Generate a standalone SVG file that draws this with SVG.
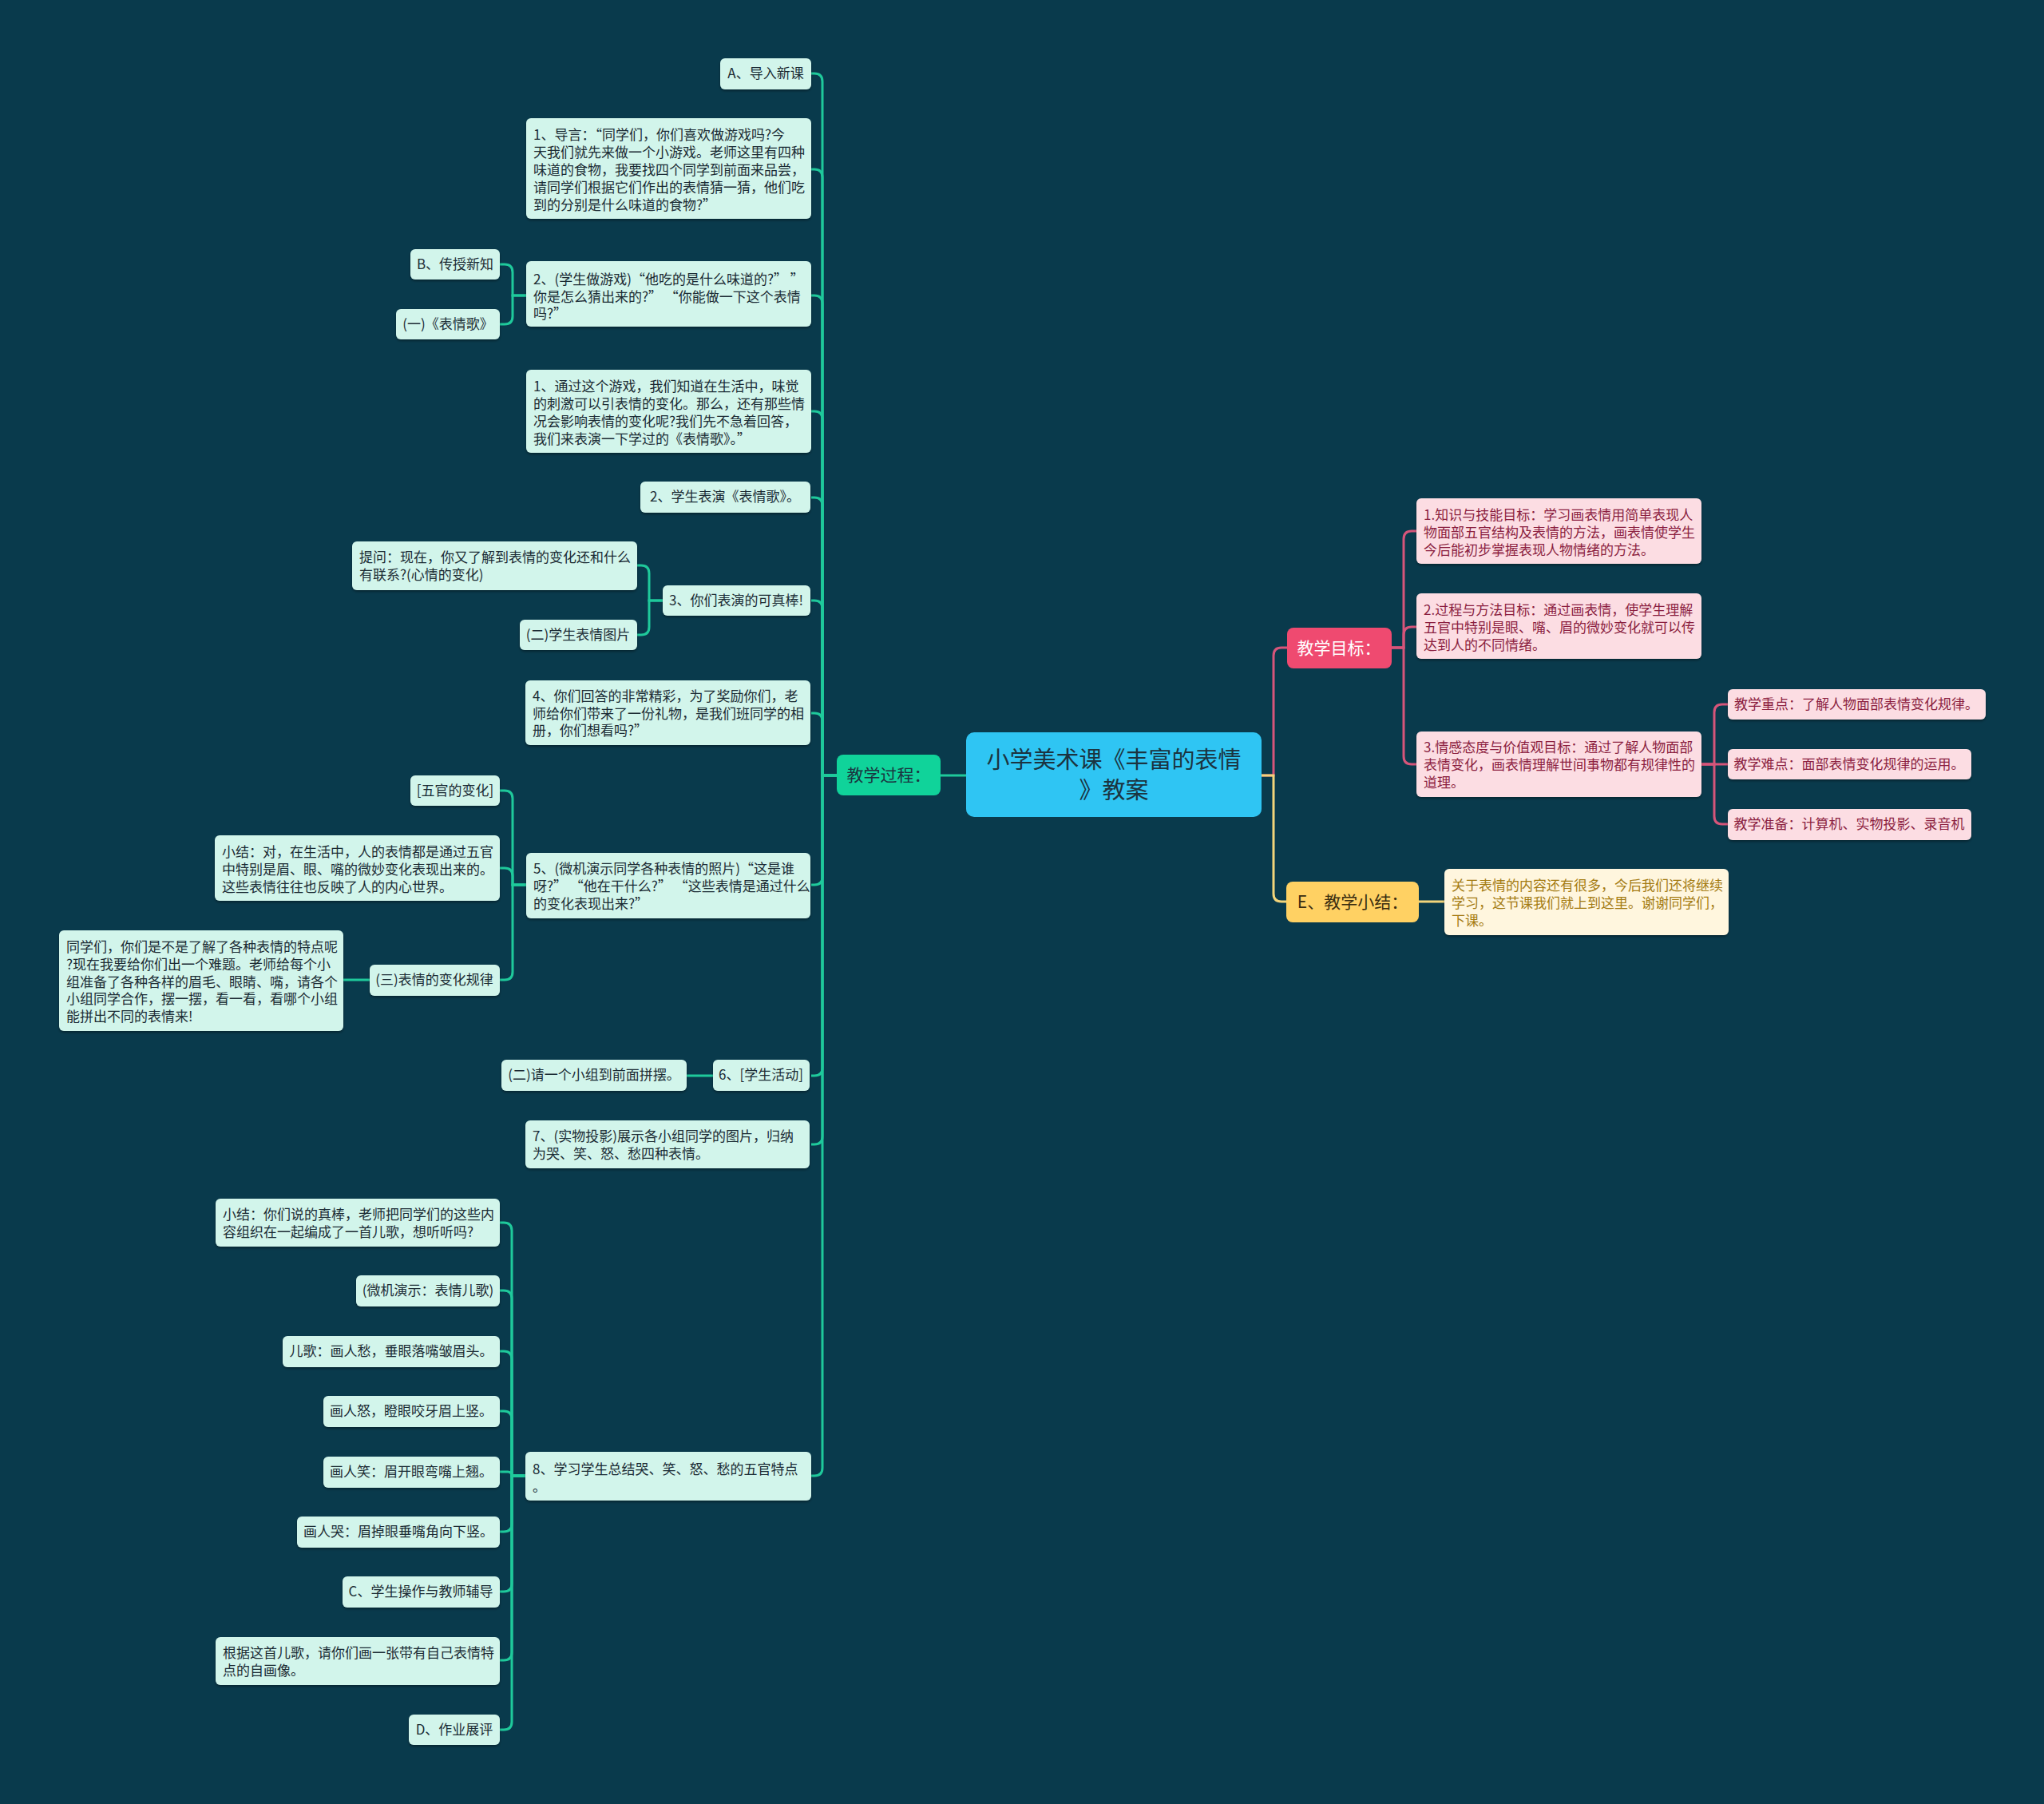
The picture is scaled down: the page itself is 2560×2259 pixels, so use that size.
<svg xmlns="http://www.w3.org/2000/svg" width="2560" height="2259" viewBox="0 0 2560 2259">
<defs>
<filter id="sh" x="-5%" y="-10%" width="110%" height="130%">
<feDropShadow dx="0" dy="2" stdDeviation="1.5" flood-color="#000" flood-opacity="0.35"/>
</filter>
<style>
text{font-family:"Noto Sans CJK SC","Noto Sans",sans-serif;}
.m rect{fill:#d2f5eb;filter:url(#sh);}
.m text{fill:#1b2b34;font-size:17px;}
.p rect{fill:#fcdde3;filter:url(#sh);}
.p text{fill:#8b1e3f;font-size:17px;}
.c{text-anchor:middle;}
.g{fill:none;stroke:#1fc99b;stroke-width:3;}
.k{fill:none;stroke:#d6557a;stroke-width:3;}
.y{fill:none;stroke:#f2d47a;stroke-width:3;}
</style>
</defs>
<rect width="2560" height="2259" fill="#093a4c"/>
<g id="connectors">
<path class="g" d="M1048 971H1030V102Q1030 92 1020 92H1016"/>
<path class="g" d="M1048 971H1030V222Q1030 212 1020 212H1016"/>
<path class="g" d="M1048 971H1030V380Q1030 370 1020 370H1016"/>
<path class="g" d="M1048 971H1030V525Q1030 515 1020 515H1016"/>
<path class="g" d="M1048 971H1030V633Q1030 623 1020 623H1016"/>
<path class="g" d="M1048 971H1030V762Q1030 752 1020 752H1016"/>
<path class="g" d="M1048 971H1030V903Q1030 893 1020 893H1016"/>
<path class="g" d="M1048 971H1030V1098Q1030 1108 1020 1108H1016"/>
<path class="g" d="M1048 971H1030V1337Q1030 1347 1020 1347H1016"/>
<path class="g" d="M1048 971H1030V1423Q1030 1433 1020 1433H1016"/>
<path class="g" d="M1048 971H1030V1838Q1030 1848 1020 1848H1016"/>
<path class="g" d="M1210 971H1178"/>
<path class="g" d="M659 370H642V341Q642 331 632 331H626"/>
<path class="g" d="M659 370H642V396Q642 406 632 406H626"/>
<path class="g" d="M830 752H813V718Q813 708 803 708H798"/>
<path class="g" d="M830 752H813V785Q813 795 803 795H798"/>
<path class="g" d="M659 1108H642V1000Q642 990 632 990H626"/>
<path class="g" d="M659 1108H642V1097Q642 1087 632 1087H626"/>
<path class="g" d="M659 1108H642V1217Q642 1227 632 1227H626"/>
<path class="g" d="M463 1227H430"/>
<path class="g" d="M893 1347H860"/>
<path class="g" d="M658 1848H641V1541Q641 1531 631 1531H626"/>
<path class="g" d="M658 1848H641V1626Q641 1616 631 1616H626"/>
<path class="g" d="M658 1848H641V1702Q641 1692 631 1692H626"/>
<path class="g" d="M658 1848H641V1777Q641 1767 631 1767H626"/>
<path class="g" d="M658 1848H641Q641 1843 636 1843H626"/>
<path class="g" d="M658 1848H641V1908Q641 1918 631 1918H626"/>
<path class="g" d="M658 1848H641V1983Q641 1993 631 1993H626"/>
<path class="g" d="M658 1848H641V2069Q641 2079 631 2079H626"/>
<path class="g" d="M658 1848H641V2156Q641 2166 631 2166H626"/>
<path class="k" d="M1580 971H1595V821Q1595 811 1605 811H1612"/>
<path class="y" d="M1580 971H1595V1119Q1595 1129 1605 1129H1611"/>
<path class="k" d="M1743 811H1758V675Q1758 665 1768 665H1774"/>
<path class="k" d="M1743 811H1758V795Q1758 785 1768 785H1774"/>
<path class="k" d="M1743 811H1758V947Q1758 957 1768 957H1774"/>
<path class="k" d="M2131 957H2147V892Q2147 882 2157 882H2164"/>
<path class="k" d="M2131 957H2164"/>
<path class="k" d="M2131 957H2147V1022Q2147 1032 2157 1032H2164"/>
<path class="y" d="M1777 1129H1809"/>
</g>
<g id="root">
<rect x="1210" y="917" width="370" height="106" rx="10" fill="#2fc5f3"/>
<text x="1395" y="962" class="c" font-size="29" fill="#1b3440">小学美术课《丰富的表情</text>
<text x="1395" y="1000" class="c" font-size="29" fill="#1b3440">》教案</text>
</g>
<g id="n-process">
<rect x="1048" y="945" width="130" height="51" rx="8" fill="#10d39a"/>
<text x="1113" y="978" class="c" font-size="21" fill="#1b3440">教学过程：</text>
</g>
<g id="n-goal">
<rect x="1612" y="786" width="131" height="51" rx="8" fill="#ef4a70"/>
<text x="1677" y="819" class="c" font-size="21" fill="#ffffff">教学目标：</text>
</g>
<g id="n-summary">
<rect x="1611" y="1104" width="166" height="51" rx="8" fill="#ffd163"/>
<text x="1694" y="1137" class="c" font-size="21" fill="#3a2d10">E、教学小结：</text>
</g>
<g id="n-a" class="m"><rect x="902" y="73" width="114" height="39" rx="6"/><text x="959" y="98" class="c">A、导入新课</text></g>
<g id="n-intro" class="m"><rect x="659" y="148" width="357" height="126" rx="6"/>
<text x="668" y="175">1、导言：“同学们，你们喜欢做游戏吗?今</text>
<text x="668" y="197">天我们就先来做一个小游戏。老师这里有四种</text>
<text x="668" y="219">味道的食物，我要找四个同学到前面来品尝，</text>
<text x="668" y="241">请同学们根据它们作出的表情猜一猜，他们吃</text>
<text x="668" y="263">到的分别是什么味道的食物?”</text></g>
<g id="n-game" class="m"><rect x="659" y="327" width="357" height="82" rx="6"/>
<text x="668" y="356">2、(学生做游戏)“他吃的是什么味道的?” ”</text>
<text x="668" y="378">你是怎么猜出来的?” “你能做一下这个表情</text>
<text x="668" y="399">吗?”</text></g>
<g id="n-b" class="m"><rect x="514" y="312" width="112" height="38" rx="6"/><text x="570" y="337" class="c">B、传授新知</text></g>
<g id="n-song1" class="m"><rect x="496" y="387" width="130" height="38" rx="6"/><text x="561" y="412" class="c">(一)《表情歌》</text></g>
<g id="n-through" class="m"><rect x="659" y="463" width="357" height="104" rx="6"/>
<text x="668" y="490">1、通过这个游戏，我们知道在生活中，味觉</text>
<text x="668" y="512">的刺激可以引表情的变化。那么，还有那些情</text>
<text x="668" y="534">况会影响表情的变化呢?我们先不急着回答，</text>
<text x="668" y="556">我们来表演一下学过的《表情歌》。”</text></g>
<g id="n-perform" class="m"><rect x="802" y="603" width="213" height="39" rx="6"/><text x="908" y="628" class="c">2、学生表演《表情歌》。</text></g>
<g id="n-great" class="m"><rect x="830" y="733" width="185" height="38" rx="6"/><text x="922" y="758" class="c">3、你们表演的可真棒!</text></g>
<g id="n-ask" class="m"><rect x="441" y="678" width="357" height="61" rx="6"/>
<text x="450" y="704">提问：现在，你又了解到表情的变化还和什么</text>
<text x="450" y="726">有联系?(心情的变化)</text></g>
<g id="n-pics" class="m"><rect x="651" y="776" width="147" height="38" rx="6"/><text x="724" y="801" class="c">(二)学生表情图片</text></g>
<g id="n-gift" class="m"><rect x="658" y="852" width="357" height="81" rx="6"/>
<text x="667" y="878">4、你们回答的非常精彩，为了奖励你们，老</text>
<text x="667" y="900">师给你们带来了一份礼物，是我们班同学的相</text>
<text x="667" y="921">册，你们想看吗?”</text></g>
<g id="n-photos" class="m"><rect x="659" y="1068" width="356" height="82" rx="6"/>
<text x="668" y="1094">5、(微机演示同学各种表情的照片)“这是谁</text>
<text x="668" y="1116">呀?” “他在干什么?” “这些表情是通过什么</text>
<text x="668" y="1138">的变化表现出来?”</text></g>
<g id="n-features" class="m"><rect x="514" y="971" width="112" height="38" rx="6"/><text x="570" y="996" class="c">[五官的变化]</text></g>
<g id="n-sum1" class="m"><rect x="269" y="1046" width="357" height="82" rx="6"/>
<text x="278" y="1073">小结：对，在生活中，人的表情都是通过五官</text>
<text x="278" y="1095">中特别是眉、眼、嘴的微妙变化表现出来的。</text>
<text x="278" y="1117">这些表情往往也反映了人的内心世界。</text></g>
<g id="n-rule" class="m"><rect x="463" y="1208" width="163" height="39" rx="6"/><text x="544" y="1233" class="c">(三)表情的变化规律</text></g>
<g id="n-puzzle" class="m"><rect x="74" y="1165" width="356" height="126" rx="6"/>
<text x="83" y="1192">同学们，你们是不是了解了各种表情的特点呢</text>
<text x="83" y="1214">?现在我要给你们出一个难题。老师给每个小</text>
<text x="83" y="1236">组准备了各种各样的眉毛、眼睛、嘴，请各个</text>
<text x="83" y="1257">小组同学合作，摆一摆，看一看，看哪个小组</text>
<text x="83" y="1279">能拼出不同的表情来!</text></g>
<g id="n-activity" class="m"><rect x="893" y="1327" width="121" height="39" rx="6"/><text x="953" y="1352" class="c">6、[学生活动]</text></g>
<g id="n-group" class="m"><rect x="628" y="1327" width="232" height="39" rx="6"/><text x="744" y="1352" class="c">(二)请一个小组到前面拼摆。</text></g>
<g id="n-show" class="m"><rect x="658" y="1403" width="356" height="60" rx="6"/>
<text x="667" y="1429">7、(实物投影)展示各小组同学的图片，归纳</text>
<text x="667" y="1451">为哭、笑、怒、愁四种表情。</text></g>
<g id="n-learn" class="m"><rect x="658" y="1818" width="358" height="61" rx="6"/>
<text x="667" y="1846">8、学习学生总结哭、笑、怒、愁的五官特点</text>
<text x="667" y="1868">。</text></g>
<g id="n-sum2" class="m"><rect x="270" y="1501" width="356" height="60" rx="6"/>
<text x="279" y="1527">小结：你们说的真棒，老师把同学们的这些内</text>
<text x="279" y="1549">容组织在一起编成了一首儿歌，想听听吗?</text></g>
<g id="n-demo" class="m"><rect x="446" y="1597" width="180" height="39" rx="6"/><text x="536" y="1622" class="c">(微机演示：表情儿歌)</text></g>
<g id="n-sad" class="m"><rect x="354" y="1673" width="272" height="39" rx="6"/><text x="490" y="1698" class="c">儿歌：画人愁，垂眼落嘴皱眉头。</text></g>
<g id="n-angry" class="m"><rect x="405" y="1748" width="221" height="39" rx="6"/><text x="515" y="1773" class="c">画人怒，瞪眼咬牙眉上竖。</text></g>
<g id="n-smile" class="m"><rect x="405" y="1824" width="221" height="39" rx="6"/><text x="515" y="1849" class="c">画人笑：眉开眼弯嘴上翘。</text></g>
<g id="n-cry" class="m"><rect x="372" y="1899" width="254" height="39" rx="6"/><text x="499" y="1924" class="c">画人哭：眉掉眼垂嘴角向下竖。</text></g>
<g id="n-c" class="m"><rect x="429" y="1974" width="197" height="39" rx="6"/><text x="527" y="1999" class="c">C、学生操作与教师辅导</text></g>
<g id="n-draw" class="m"><rect x="270" y="2050" width="356" height="60" rx="6"/>
<text x="279" y="2076">根据这首儿歌，请你们画一张带有自己表情特</text>
<text x="279" y="2098">点的自画像。</text></g>
<g id="n-d" class="m"><rect x="512" y="2147" width="114" height="38" rx="6"/><text x="569" y="2172" class="c">D、作业展评</text></g>
<g id="g1" class="p"><rect x="1774" y="624" width="357" height="82" rx="6"/>
<text x="1783" y="651">1.知识与技能目标：学习画表情用简单表现人</text>
<text x="1783" y="673">物面部五官结构及表情的方法，画表情使学生</text>
<text x="1783" y="695">今后能初步掌握表现人物情绪的方法。</text></g>
<g id="g2" class="p"><rect x="1774" y="743" width="357" height="82" rx="6"/>
<text x="1783" y="770">2.过程与方法目标：通过画表情，使学生理解</text>
<text x="1783" y="792">五官中特别是眼、嘴、眉的微妙变化就可以传</text>
<text x="1783" y="814">达到人的不同情绪。</text></g>
<g id="g3" class="p"><rect x="1774" y="916" width="357" height="82" rx="6"/>
<text x="1783" y="942">3.情感态度与价值观目标：通过了解人物面部</text>
<text x="1783" y="964">表情变化，画表情理解世间事物都有规律性的</text>
<text x="1783" y="986">道理。</text></g>
<g id="g-key" class="p"><rect x="2164" y="863" width="323" height="38" rx="6"/><text x="2325" y="888" class="c">教学重点：了解人物面部表情变化规律。</text></g>
<g id="g-hard" class="p"><rect x="2164" y="938" width="305" height="38" rx="6"/><text x="2316" y="963" class="c">教学难点：面部表情变化规律的运用。</text></g>
<g id="g-prep" class="p"><rect x="2164" y="1013" width="305" height="39" rx="6"/><text x="2316" y="1038" class="c">教学准备：计算机、实物投影、录音机</text></g>
<g id="s1">
<rect x="1809" y="1088" width="356" height="83" rx="6" fill="#fff6de" filter="url(#sh)"/>
<text x="1818" y="1115" font-size="17" fill="#a47b12">关于表情的内容还有很多，今后我们还将继续</text>
<text x="1818" y="1137" font-size="17" fill="#a47b12">学习，这节课我们就上到这里。谢谢同学们，</text>
<text x="1818" y="1159" font-size="17" fill="#a47b12">下课。</text>
</g>
</svg>
